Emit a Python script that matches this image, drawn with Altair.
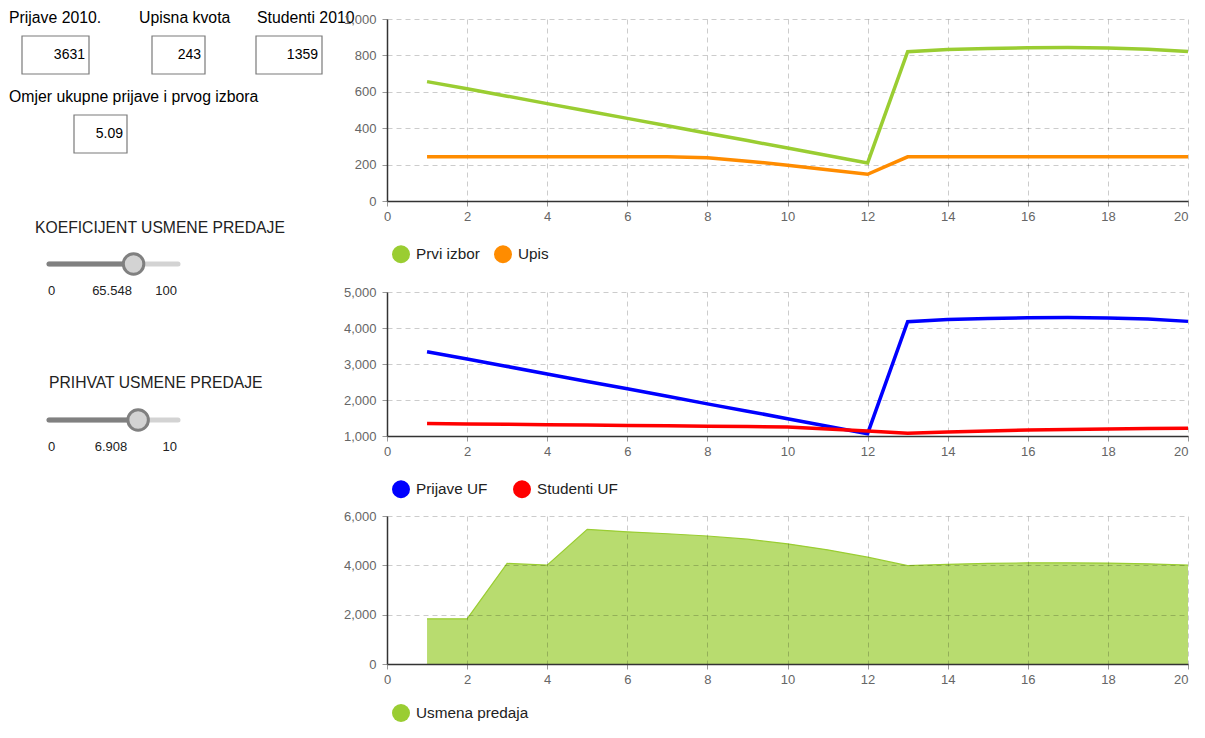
import altair as alt
import pandas as pd

FONT = "Liberation Sans"

# ---------------- data ----------------
X = list(range(1, 21))
prvi_izbor = [656, 617, 576, 535, 494, 454, 413, 372, 332, 291, 250, 209,
              820, 832, 838, 842, 843, 841, 834, 822]
upis = [243, 243, 243, 243, 243, 243, 243, 238, 219, 197, 172, 147,
        243, 243, 243, 243, 243, 243, 243, 243]
prijave_uf = [3339, 3141, 2932, 2723, 2514, 2311, 2102, 1893, 1690, 1481, 1273, 1064,
              4174, 4235, 4265, 4286, 4291, 4281, 4247, 4184]
studenti_uf = [1345, 1334, 1324, 1313, 1303, 1292, 1282, 1271, 1261, 1250, 1195, 1139,
               1074, 1108, 1140, 1167, 1182, 1195, 1205, 1213]
usmena = [1830, 1830, 4080, 4010, 5460, 5360, 5280, 5190, 5060, 4870, 4630, 4330,
          3985, 4040, 4080, 4100, 4100, 4090, 4060, 4010]

series1 = ["Prvi izbor", "Upis"]
colors1 = ["#9acd32", "#ff8c00"]
series2 = ["Prijave UF", "Studenti UF"]
colors2 = ["#0000ff", "#ff0000"]
series3 = ["Usmena predaja"]
colors3 = ["#9acd32"]

x_ticks = list(range(0, 21, 2))
y1_ticks = [0, 200, 400, 600, 800, 1000]
y2_ticks = [1000, 2000, 3000, 4000, 5000]
y3_ticks = [0, 2000, 4000, 6000]

# widget texts / values
field_labels = ["Prijave 2010.", "Upisna kvota", "Studenti 2010",
                "Omjer ukupne prijave i prvog izbora"]
field_values = ["3631", "243", "1359", "5.09"]
slider_titles = ["KOEFICIJENT USMENE PREDAJE", "PRIHVAT USMENE PREDAJE"]
slider_min = [0, 0]
slider_max = [100, 10]
slider_val = [65.548, 6.908]

# ---------------- layout (page pixels) ----------------
WL, HL = 300, 651
Y0 = 19          # page y of the left panel origin (= top of first plot)
HSPACE = 79      # hconcat spacing
lbl_x = [9, 139, 257, 9]
lbl_y = [18, 18, 18, 97]
box_x0 = [22, 152, 256, 74]
box_x1 = [89, 205, 322, 127]
box_y0 = [36, 36, 36, 115]
box_y1 = [74, 74, 74, 153]
sl_title_x = [35, 49]
sl_title_y = [228, 383]
track_x0, track_x1 = 49, 178
track_y = [264, 420]
sl_lbl_y = [291, 447]
sl_val_x = [112, 111]

xs = alt.Scale(domain=[8, 8 + WL], nice=False, zero=False)
ys = alt.Scale(domain=[Y0, Y0 + HL], nice=False, zero=False, reverse=True)


def pX(f="x"):
    return alt.X(f + ":Q", scale=xs, axis=None)


def pY(f="y"):
    return alt.Y(f + ":Q", scale=ys, axis=None)


anchor_df = pd.DataFrame({"x": [8], "x2": [12], "y": [8], "y2": [12]})
anchor = alt.Chart(anchor_df).mark_rect(fill="white", strokeWidth=0).encode(
    x=pX(), x2="x2:Q", y=pY(), y2="y2:Q")

lbl_df = pd.DataFrame({"x": lbl_x, "y": lbl_y, "t": field_labels})
labels = alt.Chart(lbl_df).mark_text(align="left", baseline="middle", font=FONT,
                                     fontSize=15.8, color="#000").encode(
    x=pX(), y=pY(), text="t:N")

box_df = pd.DataFrame({"x": box_x0, "x2": box_x1, "y": box_y0, "y2": box_y1,
                       "t": field_values})
boxes = alt.Chart(box_df).mark_rect(fill="white", stroke="#7a7a7a", strokeWidth=1.2).encode(
    x=pX(), x2="x2:Q", y=pY(), y2="y2:Q")
box_df["tx"] = [b - 4 for b in box_x1]
box_df["ty"] = [(a + b) / 2 for a, b in zip(box_y0, box_y1)]
box_txt = alt.Chart(box_df).mark_text(align="right", baseline="middle", font=FONT,
                                      fontSize=14, color="#000").encode(
    x=pX("tx"), y=pY("ty"), text="t:N")

st_df = pd.DataFrame({"x": sl_title_x, "y": sl_title_y, "t": slider_titles})
sl_titles = alt.Chart(st_df).mark_text(align="left", baseline="middle", font=FONT,
                                       fontSize=15.7, color="#222").encode(
    x=pX(), y=pY(), text="t:N")

knob_x = [track_x0 + v / m * (track_x1 - track_x0) for v, m in zip(slider_val, slider_max)]
trk_df = pd.DataFrame({"x": [track_x0] * 2, "x2": [track_x1] * 2, "y": track_y})
track_bg = alt.Chart(trk_df).mark_rule(strokeWidth=5, strokeCap="round", color="#d3d3d3").encode(
    x=pX(), x2="x2:Q", y=pY())
fill_df = pd.DataFrame({"x": [track_x0] * 2, "x2": knob_x, "y": track_y})
track_fg = alt.Chart(fill_df).mark_rule(strokeWidth=5, strokeCap="round", color="#808080").encode(
    x=pX(), x2="x2:Q", y=pY())
knob_df = pd.DataFrame({"x": knob_x, "y": track_y})
knobs = alt.Chart(knob_df).mark_point(shape="circle", filled=True, size=420, fill="#d3d3d3",
                                      stroke="#808080", strokeWidth=3, opacity=1).encode(
    x=pX(), y=pY())

sl_lbl_df = pd.DataFrame({
    "x": [48, 48, sl_val_x[0], sl_val_x[1], 177, 177],
    "y": [sl_lbl_y[0], sl_lbl_y[1]] * 3,
    "t": [str(slider_min[0]), str(slider_min[1]), str(slider_val[0]), str(slider_val[1]),
          str(slider_max[0]), str(slider_max[1])],
    "a": ["left", "left", "center", "center", "right", "right"],
})
sl_lbls = []
for al in ["left", "center", "right"]:
    sub = sl_lbl_df[sl_lbl_df["a"] == al]
    sl_lbls.append(alt.Chart(sub).mark_text(align=al, baseline="middle", font=FONT,
                                            fontSize=13, color="#222").encode(
        x=pX(), y=pY(), text="t:N"))

left = alt.layer(anchor, labels, boxes, box_txt, sl_titles, track_bg, track_fg, knobs,
                 *sl_lbls).properties(width=WL, height=HL)

# ---------------- charts ----------------
PW = 801


def xenc(z=0):
    return alt.X("x:Q", scale=alt.Scale(domain=[0, 20], nice=False),
                 axis=alt.Axis(title=None, values=x_ticks, zindex=z, labelPadding=4,
                               labelAlign={"condition": {"test": "datum.value == 20",
                                                         "value": "right"},
                                           "value": "center"}))


def yenc(dom, ticks, z=0):
    return alt.Y("v:Q", scale=alt.Scale(domain=dom, nice=False, zero=False),
                 axis=alt.Axis(title=None, values=ticks, format=",.0f", zindex=z,
                               labelPadding=6))


leg_common = dict(orient="none", direction="horizontal", title=None, symbolType="circle",
                  labelFontSize=15.3, labelColor="#222", labelFont=FONT, labelOffset=6,
                  padding=0, symbolOpacity=1, legendX=5)

H1, H2, H3 = 182, 144, 148

df1 = pd.DataFrame({"x": X * 2, "v": prvi_izbor + upis, "s": [series1[0]] * 20 + [series1[1]] * 20})
c1 = alt.Chart(df1).mark_line().encode(
    x=xenc(), y=yenc([0, 1000], y1_ticks),
    color=alt.Color("s:N", scale=alt.Scale(domain=series1, range=colors1), sort=series1,
                    legend=alt.Legend(symbolSize=81, symbolStrokeWidth=9, columns=2,
                                      columnPadding=0, legendY=H1 + 44, **leg_common)),
    strokeWidth=alt.value(3.5),
).properties(width=PW, height=H1)

df2 = pd.DataFrame({"x": X * 2, "v": prijave_uf + studenti_uf,
                    "s": [series2[0]] * 20 + [series2[1]] * 20})
c2 = alt.Chart(df2).mark_line().encode(
    x=xenc(), y=yenc([1000, 5000], y2_ticks),
    color=alt.Color("s:N", scale=alt.Scale(domain=series2, range=colors2), sort=series2,
                    legend=alt.Legend(symbolSize=81, symbolStrokeWidth=9, columns=2,
                                      columnPadding=11, legendY=H2 + 44, **leg_common)),
    strokeWidth=alt.value(3.5),
).properties(width=PW, height=H2)

df3 = pd.DataFrame({"x": X, "v": usmena, "s": series3 * 20})
area = alt.Chart(df3).mark_area(opacity=0.7).encode(
    x=xenc(1), y=yenc([0, 6000], y3_ticks, 1),
    color=alt.Color("s:N", scale=alt.Scale(domain=series3, range=colors3),
                    legend=alt.Legend(symbolSize=324, symbolStrokeWidth=0, columns=1,
                                      legendY=H3 + 40, **leg_common)),
)
edge = alt.Chart(df3).mark_line(strokeWidth=1.2, color="#9acd32").encode(
    x=xenc(1), y=yenc([0, 6000], y3_ticks, 1))
c3 = alt.layer(area, edge).properties(width=PW, height=H3)

top = alt.vconcat(c1, c2, spacing=91, bounds="flush").resolve_scale(color="independent")
right = alt.vconcat(top, c3, spacing=-2, bounds="full").resolve_scale(color="independent")

chart = alt.hconcat(left, right, spacing=HSPACE, bounds="flush").resolve_scale(
    color="independent").properties(padding=0).configure_axis(
    labelFont=FONT, labelFontSize=13, labelColor="#666", domainColor="#333",
    domainWidth=1.5, tickColor="#999", tickSize=5, gridColor="#000", gridOpacity=0.2,
    gridDash=[5, 4],
).configure_view(stroke=None)

chart.save("out.html", embed_options={"renderer": "svg", "actions": False})
